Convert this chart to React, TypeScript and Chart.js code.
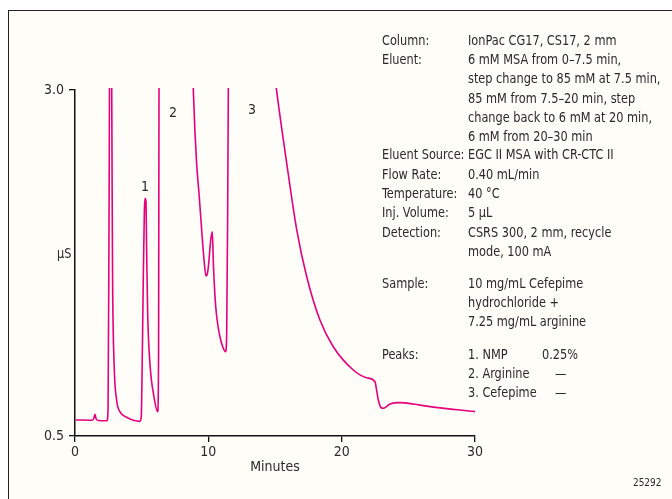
import React, { useEffect, useRef } from "react";
import { Chart, registerables } from "chart.js";

Chart.register(...registerables);

// Chromatogram trace: retention time (min) and conductivity (µS)
const times = [
  0.05, 1.3, 1.42, 1.5, 1.58, 1.75, 2.4, 2.48, 2.55, 2.62, 2.72, 2.78, 2.82, 2.93, 3.12, 3.37, 3.87, 4.87,
  4.97, 5.05, 5.12, 5.2, 5.25, 5.32, 5.37, 5.45, 5.62, 5.92, 6.2, 6.27, 6.3, 6.35,
  8.0, 8.6, 8.87, 8.99, 9.12, 9.32, 9.5, 9.68, 9.83, 9.92, 10.0, 10.18, 10.3, 10.37, 10.5, 10.63,
  10.87, 11.12, 11.3, 11.38, 11.45, 11.5, 11.55,
  12.0, 14.0, 14.5, 15.1, 15.88, 16.63, 17.38, 18.37, 19.37, 20.87, 21.87, 22.5, 22.62, 22.75,
  22.95, 23.12, 23.62, 24.37, 25.37, 26.62, 30.0,
];
const signal = [
  0.616, 0.614, 0.63, 0.657, 0.625, 0.612, 0.61, 0.7, 2.0, 3.6, 3.6, 2.4, 1.63, 1.03, 0.76, 0.676, 0.635, 0.606,
  0.64, 1.1, 1.627, 2.11, 2.217, 2.2, 1.868, 1.387, 1.025, 0.784, 0.676, 1.145, 3.01, 4.0,
  4.8, 3.57, 3.012, 2.71, 2.47, 2.229, 1.988, 1.77, 1.656, 1.67, 1.72, 1.916, 1.976, 1.77, 1.507, 1.36,
  1.217, 1.134, 1.109, 1.266, 2.11, 3.01, 4.0,
  8.0, 4.2, 3.5, 3.01, 2.47, 1.99, 1.651, 1.338, 1.145, 0.977, 0.921, 0.892, 0.832, 0.76,
  0.705, 0.7, 0.731, 0.741, 0.731, 0.712, 0.676,
];

// Peak labels
const peakNames = ["1", "2", "3"];
const peakTimes = [5.25, 7.35, 13.28];
const peakLabelValues = [2.3, 2.83, 2.85];

// Axes
const xTicks = [0, 10, 20, 30];
const yTicks = [0.5, 3.0];
const xTitle = "Minutes";
const yTitle = "µS";

// Conditions table
const condLabels = [
  "Column:", "Eluent:", "", "", "", "", "Eluent Source:", "Flow Rate:", "Temperature:",
  "Inj. Volume:", "Detection:", "", "Sample:", "", "", "Peaks:", "", "",
];
const condValues = [
  "IonPac CG17, CS17, 2 mm",
  "6 mM MSA from 0–7.5 min,",
  "step change to 85 mM at 7.5 min,",
  "85 mM from 7.5–20 min, step",
  "change back to 6 mM at 20 min,",
  "6 mM from 20–30 min",
  "EGC II MSA with CR-CTC II",
  "0.40 mL/min",
  "40 °C",
  "5 µL",
  "CSRS 300, 2 mm, recycle",
  "mode, 100 mA",
  "10 mg/mL Cefepime",
  "hydrochloride +",
  "7.25 mg/mL arginine",
  "1. NMP",
  "2. Arginine",
  "3. Cefepime",
];
const condRows = [40, 59.3, 78.3, 97.7, 116.7, 135.7, 154.3, 174, 193.3, 212.3, 231.7, 251, 282.7, 301.7, 321, 354.3, 373.3, 391.7];
const peakAmounts = ["0.25%", "—", "—"];
const figureNumber = "25292";

const FONT = '"DejaVu Sans Condensed", "Liberation Sans Narrow", Arial, sans-serif';
const TEXT = "#2a2a2a";
const TRACE = "#e5007d";

function Txt({ x, y, size = 14, children }: { x: number; y: number; size?: number; children: React.ReactNode }) {
  return (
    <div
      style={{
        position: "absolute",
        left: x,
        top: y - 9,
        font: `${size}px ${FONT}`,
        color: TEXT,
        lineHeight: "18px",
        whiteSpace: "nowrap",
        transform: "scaleX(0.9)",
        transformOrigin: "left center",
      }}
    >
      {children}
    </div>
  );
}

export default function App() {
  const ref = useRef<HTMLCanvasElement | null>(null);

  useEffect(() => {
    if (!ref.current) return;
    const peakLabelPlugin = {
      id: "peakLabels",
      afterDatasetsDraw(chart: any) {
        const ctx = chart.ctx;
        const xs = chart.scales.x;
        const ys = chart.scales.y;
        ctx.save();
        ctx.font = `14px ${FONT}`;
        ctx.fillStyle = TEXT;
        ctx.textAlign = "center";
        ctx.textBaseline = "middle";
        peakNames.forEach((n, i) => {
          ctx.fillText(n, xs.getPixelForValue(peakTimes[i]), ys.getPixelForValue(peakLabelValues[i]));
        });
        ctx.restore();
      },
    };
    const chart = new Chart(ref.current, {
      type: "line",
      data: {
        datasets: [
          {
            data: times.map((t, i) => ({ x: t, y: signal[i] })),
            borderColor: TRACE,
            borderWidth: 1.6,
            pointRadius: 0,
            cubicInterpolationMode: "monotone",
            fill: false,
            clip: { left: 0, top: 2, right: 0, bottom: 0 } as any,
          },
        ],
      },
      options: {
        responsive: false,
        animation: false,
        devicePixelRatio: 1,
        layout: { padding: { top: 90, right: 197, left: 0, bottom: 23 } },
        plugins: { legend: { display: false }, tooltip: { enabled: false } },
        scales: {
          x: {
            type: "linear",
            min: 0,
            max: 30,
            afterBuildTicks: (s: any) => {
              s.ticks = xTicks.map((v) => ({ value: v }));
            },
            afterFit: (s: any) => {
              s.height = 40;
            },
            grid: { drawOnChartArea: false, drawTicks: true, tickLength: 6, color: "#111", lineWidth: 1.3 },
            border: { display: true, color: "#111", width: 1.5 },
            ticks: { color: TEXT, font: { family: FONT, size: 14 }, padding: 2, maxRotation: 0 },
            title: { display: true, text: xTitle, color: TEXT, font: { family: FONT, size: 14 }, padding: { top: 0, bottom: 0 } },
          },
          y: {
            type: "linear",
            min: 0.5,
            max: 3.0,
            afterBuildTicks: (s: any) => {
              s.ticks = yTicks.map((v) => ({ value: v }));
            },
            afterFit: (s: any) => {
              s.width = 75;
            },
            grid: { drawOnChartArea: false, drawTicks: true, tickLength: 6, color: "#111", lineWidth: 1.3 },
            border: { display: true, color: "#111", width: 1.5 },
            ticks: {
              color: TEXT,
              font: { family: FONT, size: 14 },
              padding: 5,
              callback: (v: any) => Number(v).toFixed(1),
            },
          },
        },
      },
      plugins: [peakLabelPlugin],
    });
    return () => chart.destroy();
  }, []);

  return (
    <div style={{ position: "absolute", left: 0, top: 0, width: 672, height: 499, overflow: "hidden", background: "#fff" }}>
      <div
        style={{
          position: "absolute",
          left: 8,
          top: 10,
          width: 700,
          height: 520,
          borderLeft: "1.5px solid #222",
          borderTop: "1.5px solid #222",
          background: "#fffdf7",
        }}
      />
      <canvas ref={ref} width={672} height={499} style={{ position: "absolute", left: 0, top: 0 }} />
      <Txt x={57} y={253}>{yTitle}</Txt>
      {condRows.map((y, i) => (
        <React.Fragment key={i}>
          {condLabels[i] && <Txt x={382} y={y}>{condLabels[i]}</Txt>}
          <Txt x={468} y={y}>{condValues[i]}</Txt>
        </React.Fragment>
      ))}
      {peakAmounts.map((a, i) => (
        <Txt key={"pa" + i} x={a === "—" ? 555 : 542} y={condRows[15 + i]}>
          {a}
        </Txt>
      ))}
      <Txt x={633} y={483} size={11}>{figureNumber}</Txt>
    </div>
  );
}
